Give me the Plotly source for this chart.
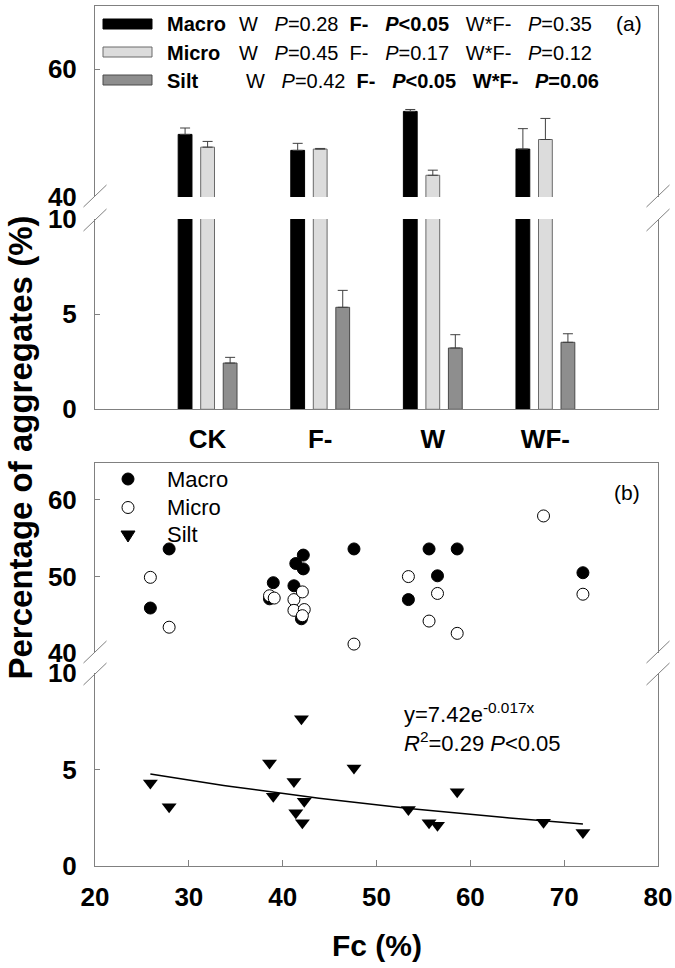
import numpy as np
import plotly.graph_objects as go

# ---------------- data ----------------
treatments = ["CK", "F-", "W", "WF-"]
macro_mean = [49.8, 47.3, 53.4, 47.5]
macro_err = [1.0, 1.1, 0.3, 3.2]
micro_mean = [47.8, 47.5, 43.4, 49.0]
micro_err = [0.9, 0.1, 0.8, 3.3]
silt_mean = [2.43, 5.36, 3.22, 3.52]
silt_err = [0.30, 0.89, 0.70, 0.45]

fc_macro = [25.9, 27.9, 39.0, 38.6, 41.2, 41.4, 42.2, 42.2, 42.0, 47.6, 53.4, 55.6, 56.5, 58.6, 72.0]
macro_pct = [45.9, 53.6, 49.2, 47.1, 48.8, 51.7, 52.8, 51.0, 44.5, 53.6, 47.0, 53.6, 50.1, 53.6, 50.5]

fc_micro = [25.9, 27.9, 38.6, 39.1, 41.2, 41.2, 42.1, 42.3, 42.1, 47.6, 53.4, 55.6, 56.5, 58.6, 67.8, 72.0]
micro_pct = [49.9, 43.4, 47.5, 47.2, 47.0, 45.6, 48.0, 45.7, 44.9, 41.2, 50.0, 44.2, 47.8, 42.6, 57.9, 47.7]

fc_silt = [25.9, 27.9, 38.6, 39.0, 41.2, 41.4, 42.0, 42.3, 42.1, 47.6, 53.4, 55.6, 56.5, 58.6, 67.8, 72.0]
silt_pct = [4.31, 3.07, 5.35, 3.62, 4.39, 2.76, 7.64, 3.36, 2.24, 5.09, 2.93, 2.24, 2.12, 3.85, 2.27, 1.74]

fit_a, fit_b = 7.42, -0.017   # y = a*exp(b*x), as printed on the chart

# ---------------- layout helpers (pixel frame) ----------------
W, H = 675, 968
FL, FR, FT, FB = 95, 658, 6, 866


def px(x):
    return (x - FL) / (FR - FL)


def py(y):
    return (FB - y) / (FB - FT)


FONT = "Liberation Sans, Arial, sans-serif"
LINE = "#808080"
C_MACRO, C_MICRO, C_SILT = "#000000", "#dcdcdc", "#8e8e8e"

fig = go.Figure()

# ---------------- panel (a): bars ----------------
series = [
    ("Macro", macro_mean, macro_err, C_MACRO, "#000000"),
    ("Micro", micro_mean, micro_err, C_MICRO, "#6a6a6a"),
    ("Silt", silt_mean, silt_err, C_SILT, "#4a4a4a"),
]
for xa, ya in (("x", "y"), ("x2", "y2")):
    for name, vals, errs, col, lc in series:
        fig.add_trace(go.Bar(
            x=treatments, y=vals, name=name, xaxis=xa, yaxis=ya,
            marker=dict(color=col, line=dict(color=lc, width=1)),
            error_y=dict(type="data", array=errs, arrayminus=[0] * len(errs),
                         symmetric=False, color="#404040", thickness=1, width=5),
            showlegend=False,
        ))

# ---------------- panel (b): scatter ----------------
fig.add_trace(go.Scatter(
    x=fc_macro, y=macro_pct, mode="markers", xaxis="x3", yaxis="y3",
    marker=dict(symbol="circle", size=12, color="black", line=dict(color="black", width=1)),
    showlegend=False))
fig.add_trace(go.Scatter(
    x=fc_micro, y=micro_pct, mode="markers", xaxis="x3", yaxis="y3",
    marker=dict(symbol="circle", size=12, color="white", line=dict(color="black", width=1)),
    showlegend=False))
fig.add_trace(go.Scatter(
    x=fc_silt, y=silt_pct, mode="markers", xaxis="x4", yaxis="y4",
    marker=dict(symbol="triangle-down", size=13, color="black"),
    showlegend=False))
fit_x = np.linspace(min(fc_silt), max(fc_silt), 60)
fit_y = fit_a * np.exp(fit_b * fit_x)
fig.add_trace(go.Scatter(
    x=fit_x, y=fit_y, mode="lines", xaxis="x4", yaxis="y4",
    line=dict(color="black", width=1.5), showlegend=False))

# ---------------- axes ----------------
tickfont = dict(family=FONT, size=26, color="black", weight="bold")
common_y = dict(showline=True, linecolor=LINE, linewidth=1, mirror=True,
                ticks="inside", ticklen=5, tickcolor=LINE, showgrid=False,
                zeroline=False, tickfont=tickfont, ticklabelstandoff=12,
                automargin=False)
common_x = dict(showline=True, linecolor=LINE, linewidth=1, showgrid=False,
                zeroline=False, automargin=False)

fig.update_layout(
    template="none",
    width=W, height=H,
    margin=dict(l=FL, r=W - FR, t=FT, b=H - FB, pad=0),
    paper_bgcolor="white", plot_bgcolor="white",
    barmode="group", bargap=0.4, bargroupgap=0.387,
    xaxis=dict(domain=[0, 1], anchor="y", range=[-1, 4], side="top",
               ticks="", showticklabels=False, **common_x),
    yaxis=dict(domain=[py(197), 1], anchor="x", range=[40, 69.9],
               tickvals=[40, 60], **common_y),
    xaxis2=dict(domain=[0, 1], anchor="y2", matches="x", side="bottom",
                ticks="", showticklabels=True, tickfont=tickfont,
                ticklabelstandoff=6, **common_x),
    yaxis2=dict(domain=[py(409.3), py(219)], anchor="x2", range=[0, 10],
                tickvals=[0, 5, 10], **common_y),
    xaxis3=dict(domain=[0, 1], anchor="y3", range=[20, 80], side="top",
                ticks="", showticklabels=False, **common_x),
    yaxis3=dict(domain=[py(653.3), py(463)], anchor="x3", range=[40, 64.8],
                tickvals=[40, 50, 60], **common_y),
    xaxis4=dict(domain=[0, 1], anchor="y4", range=[20, 80], side="bottom",
                ticks="inside", ticklen=6, tickcolor=LINE,
                tickvals=[20, 30, 40, 50, 60, 70, 80],
                tickfont=tickfont, ticklabelstandoff=8, **common_x),
    yaxis4=dict(domain=[0, py(673.3)], anchor="x4", range=[0, 10],
                tickvals=[0, 5, 10], **common_y),
)

# ---------------- axis breaks ----------------
shapes = []
for xc in (FL, FR):
    for yc in (196, 220, 652, 674):
        shapes.append(dict(type="line", xref="paper", yref="paper",
                           x0=px(xc - 11.5), y0=py(yc + 11), x1=px(xc + 11.5), y1=py(yc - 11),
                           line=dict(color=LINE, width=1)))

# ---------------- legend (a): swatches ----------------
for yc, col, lc in ((24, C_MACRO, "#000000"), (52, C_MICRO, "#6a6a6a"), (80, C_SILT, "#4a4a4a")):
    shapes.append(dict(type="rect", xref="paper", yref="paper",
                       x0=px(103), x1=px(152), y0=py(yc + 5), y1=py(yc - 5),
                       fillcolor=col, line=dict(color=lc, width=1)))

# ---------------- legend (b): symbols ----------------
shapes.append(dict(type="circle", xref="paper", yref="paper", xsizemode="pixel", ysizemode="pixel",
                   xanchor=px(128), yanchor=py(479), x0=-6, x1=6, y0=-6, y1=6,
                   fillcolor="black", line=dict(color="black", width=1)))
shapes.append(dict(type="circle", xref="paper", yref="paper", xsizemode="pixel", ysizemode="pixel",
                   xanchor=px(128), yanchor=py(507.5), x0=-6, x1=6, y0=-6, y1=6,
                   fillcolor="white", line=dict(color="black", width=1)))
shapes.append(dict(type="path", xref="paper", yref="paper", xsizemode="pixel", ysizemode="pixel",
                   xanchor=px(128), yanchor=py(535),
                   path="M -7 4 L 7 4 L 0 -7 Z",
                   fillcolor="black", line=dict(color="black", width=1)))

fig.update_layout(shapes=shapes)

# ---------------- text ----------------
ann = []


def txt(x, y, text, size, xanchor="left", bold=False, angle=0):
    ann.append(dict(xref="paper", yref="paper", x=px(x), y=py(y), text=text,
                    showarrow=False, xanchor=xanchor, yanchor="middle", textangle=angle,
                    font=dict(family=FONT, size=size, color="black",
                              weight="bold" if bold else "normal")))


S = "&nbsp;"
legend_rows = [
    ("Macro", 24.3, 237,
     "W" + S * 3 + "<i>P</i>=0.28" + S * 2 + "<b>F-" + S * 3 + "<i>P</i>&lt;0.05</b>" + S * 3
     + "W*F-" + S * 3 + "<i>P</i>=0.35"),
    ("Micro", 53.3, 237,
     "W" + S * 3 + "<i>P</i>=0.45" + S * 2 + "F-" + S * 3 + "<i>P</i>=0.17" + S * 3
     + "W*F-" + S * 3 + "<i>P</i>=0.12"),
    ("Silt", 81.0, 244,
     "W" + S * 3 + "<i>P</i>=0.42" + S * 2 + "<b>F-" + S * 3 + "<i>P</i>&lt;0.05" + S * 3
     + "W*F-" + S * 3 + "<i>P</i>=0.06</b>"),
]
for label, yc, xs, stats in legend_rows:
    txt(165, yc, label, 20, bold=True)
    txt(xs, yc, stats, 20)

txt(629, 24, "(a)", 21, xanchor="center")
txt(627, 493, "(b)", 21, xanchor="center")

for label, yc in (("Macro", 479), ("Micro", 507.5), ("Silt", 534)):
    txt(165, yc, label, 22)

txt(402, 713, "y=7.42e<sup>-0.017x</sup>", 22)
txt(402, 742, "<i>R</i><sup>2</sup>=0.29 <i>P</i>&lt;0.05", 22)

txt(376.5, 945, "Fc (%)", 30, xanchor="center", bold=True)
txt(20, 447.5, "Percentage of aggregates (%)", 33, xanchor="center", bold=True, angle=-90)

fig.update_layout(annotations=ann)

fig.write_html(
    "out.html",
    config={"displayModeBar": False},
    post_script="document.body.style.margin='0px';document.body.style.overflow='hidden';",
)
